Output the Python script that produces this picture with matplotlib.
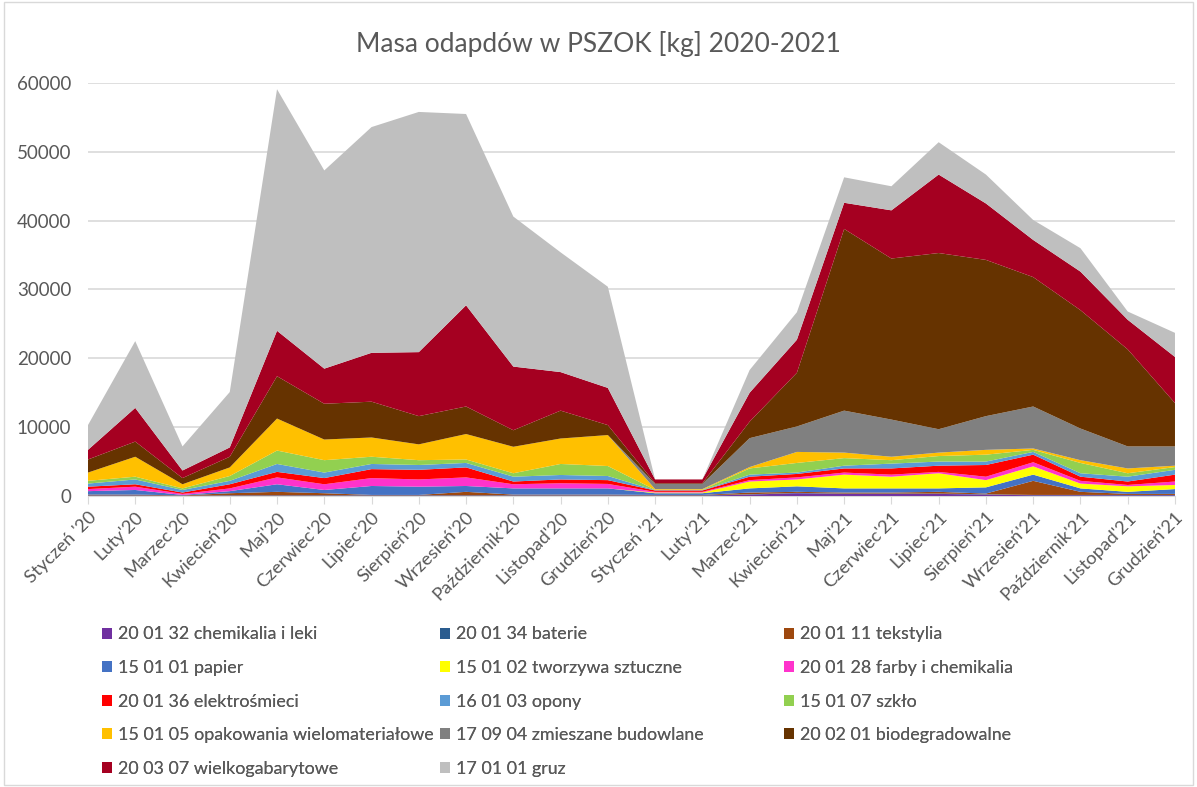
import numpy as np
import matplotlib
matplotlib.use('Agg')
from matplotlib import pyplot as plt
from matplotlib.patches import Patch, Rectangle

plt.rcParams['font.family'] = ['Lato', 'DejaVu Sans']

months = ["Styczeń '20", "Luty'20", "Marzec'20", "Kwiecień'20", "Maj'20", "Czerwiec'20",
          "Lipiec'20", "Sierpień'20", "Wrzesień'20", "Październik'20", "Listopad'20", "Grudzień'20",
          "Styczeń '21", "Luty'21", "Marzec'21", "Kwiecień'21", "Maj'21", "Czerwiec'21",
          "Lipiec'21", "Sierpień'21", "Wrzesień'21", "Październik'21", "Listopad'21", "Grudzień'21"]

# masa [kg], kolejnosc od dolu stosu
chemikalia = [50, 50, 20, 50, 50, 50, 50, 50, 50, 50, 50, 50,
              50, 50, 200, 400, 300, 300, 300, 200, 100, 100, 100, 100]
baterie = [50, 50, 20, 50, 50, 50, 50, 50, 50, 50, 50, 50,
           50, 50, 50, 50, 50, 50, 50, 50, 50, 50, 50, 50]
tekstylia = [100, 100, 40, 300, 500, 300, 50, 50, 500, 100, 100, 100,
             50, 50, 250, 150, 150, 150, 250, 100, 2050, 450, 150, 150]
papier = [500, 670, 70, 300, 1100, 470, 1300, 1200, 850, 900, 900, 900,
          250, 250, 600, 800, 600, 600, 500, 900, 900, 500, 300, 700]
tworzywa = [0, 0, 0, 0, 0, 0, 0, 0, 0, 0, 0, 0,
            100, 100, 1000, 1000, 2000, 1700, 2200, 1050, 1200, 700, 800, 600]
farby = [300, 480, 150, 400, 1000, 830, 1150, 1050, 1250, 600, 750, 650,
         100, 100, 200, 300, 300, 300, 200, 500, 600, 400, 200, 500]
elektro = [350, 350, 200, 600, 800, 900, 1300, 1400, 1450, 400, 550, 550,
           200, 200, 500, 500, 600, 900, 900, 1700, 1100, 600, 500, 1000]
opony = [450, 700, 370, 500, 1150, 800, 750, 700, 650, 700, 650, 600,
         50, 50, 300, 200, 400, 700, 600, 500, 400, 500, 700, 700]
szklo = [400, 400, 230, 700, 1950, 1800, 1050, 700, 500, 500, 1600, 1450,
         50, 50, 900, 1400, 1100, 500, 800, 1000, 300, 1500, 500, 400]
opakowania = [1200, 2900, 600, 1250, 4650, 3000, 2800, 2300, 3700, 3850, 3700, 4500,
              100, 100, 200, 1600, 800, 500, 500, 700, 200, 400, 700, 200]
budowlane = [0, 0, 0, 0, 0, 0, 0, 0, 0, 0, 0, 0,
             750, 750, 4200, 3700, 6100, 5400, 3400, 4900, 6100, 4600, 3200, 2800]
bio = [1900, 2200, 900, 1550, 6150, 5200, 5200, 4100, 4000, 2400, 4050, 1450,
       100, 100, 2400, 7800, 26400, 23400, 25600, 22700, 18800, 17200, 14100, 6300]
wielko = [1400, 4900, 1100, 1350, 6600, 5100, 7100, 9300, 14700, 9250, 5600, 5400,
          550, 550, 4200, 4800, 3800, 7000, 11400, 8200, 5400, 5600, 4300, 6700]
gruz = [3600, 9700, 3500, 8050, 35100, 28800, 32800, 34900, 27800, 21800, 17400, 14700,
        0, 0, 3300, 4000, 3700, 3500, 4700, 4200, 2900, 3400, 1200, 3500]

labels = ['20 01 32 chemikalia i leki', '20 01 34 baterie', '20 01 11 tekstylia',
          '15 01 01 papier', '15 01 02 tworzywa sztuczne', '20 01 28 farby i chemikalia',
          '20 01 36 elektrośmieci', '16 01 03 opony', '15 01 07 szkło',
          '15 01 05 opakowania wielomateriałowe', '17 09 04 zmieszane budowlane', '20 02 01 biodegradowalne',
          '20 03 07 wielkogabarytowe', '17 01 01 gruz']
colors = ['#7030A0', '#2A5C8F', '#9E480E', '#4472C4', '#FFFF00', '#FF33CC', '#FF0000',
          '#5B9BD5', '#92D050', '#FFC000', '#808080', '#663300', '#A50021', '#BFBFBF']

series = [chemikalia, baterie, tekstylia, papier, tworzywa, farby, elektro,
          opony, szklo, opakowania, budowlane, bio, wielko, gruz]

fig = plt.figure(figsize=(11.97, 7.87), dpi=100)
ax = fig.add_axes([0.0735, 0.3698, 0.9081, 0.5247])

x = np.arange(len(months))
ax.stackplot(x, *series, colors=colors, linewidth=0)

ax.set_xlim(0, len(months) - 1)
ax.set_ylim(0, 60000)
ax.set_yticks(np.arange(0, 60001, 10000))
ax.yaxis.grid(True, color='#D9D9D9', linewidth=1.2)
ax.set_axisbelow(True)
for s in ['top', 'right', 'left']:
    ax.spines[s].set_visible(False)
ax.spines['bottom'].set_color('#D9D9D9')
ax.spines['bottom'].set_zorder(0)
ax.tick_params(axis='y', length=0, labelsize=13.5, labelcolor='#595959', pad=12)
ax.tick_params(axis='x', length=6, color='#D9D9D9', labelsize=13.2, labelcolor='#595959')
ax.set_xticks(x)
ax.set_xticklabels(months, rotation=45, ha='right', rotation_mode='anchor')

fig.suptitle('Masa odapdów w PSZOK [kg] 2020-2021', y=0.96, fontsize=19, color='#595959')

handles = [Patch(facecolor=c, edgecolor='none') for c in colors]
# legenda wypelniana wierszami (jak w Excelu) - trzy kolumny osobno
col_x = [102 / 1197, 440 / 1197, 784 / 1197]
for k in range(3):
    idx = list(range(k, len(labels), 3))
    leg = fig.legend([handles[i] for i in idx], [labels[i] for i in idx],
                     loc='upper left', bbox_to_anchor=(col_x[k], 0.204), ncol=1, frameon=False,
                     fontsize=12.9, labelcolor='#595959', handlelength=0.58, handleheight=0.58,
                     handletextpad=0.3, labelspacing=0.98, borderpad=0, borderaxespad=0)
    fig.add_artist(leg)

fig.patches.append(Rectangle((0.003, 0.003), 0.994, 0.994, transform=fig.transFigure,
                             fill=False, edgecolor='#D9D9D9', linewidth=1))

fig.savefig('out.png', dpi=100)
